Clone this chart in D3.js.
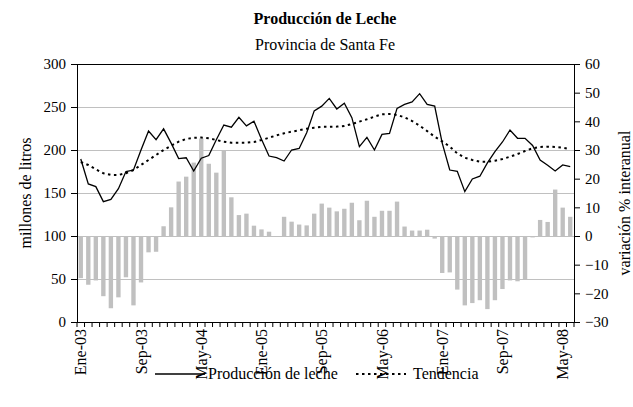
<!DOCTYPE html>
<html><head><meta charset="utf-8">
<script src="https://cdn.jsdelivr.net/npm/d3@7"></script>
<style>
body{margin:0;background:#fff;}
svg{display:block;font-family:"Liberation Serif","Times New Roman",serif;}
</style></head>
<body>
<svg id="chart" width="633" height="407"></svg>
<script>
const monthNames = ["Ene","Feb","Mar","Abr","May","Jun","Jul","Ago","Sep","Oct","Nov","Dic"];
const years = ["03","04","05","06","07","08"];
const nMonths = 66; // Ene-03 .. Jun-08
const categories = [];
for (let k = 0; k < nMonths; k++) categories.push(monthNames[k % 12] + "-" + years[Math.floor(k / 12)]);

const tickLabels = ["Ene-03","Sep-03","May-04","Ene-05","Sep-05","May-06","Ene-07","Sep-07","May-08"];
const leftTicks = [0,50,100,150,200,250,300];
const rightTicks = [-30,-20,-10,0,10,20,30,40,50,60];

// Producción de leche (millones de litros)
const produccion = [189.5,160.5,157.4,140,142.6,155,175,176.7,200,222,212,224.6,
  208,190,191,175.6,190.5,193.5,212,229,226.5,238,228,233.5,
  212.5,193,191,187.2,200,201.8,220,245.5,251,260,247.7,254.3,
  237.6,204,214.7,200,218.2,219.4,248.4,253,256,265.5,253,251,
  208,176.7,175.2,151.6,166.3,169.5,185,198,209.3,223.3,213.6,213.6,
  205.3,188.4,182.3,175.6,182.6,180.6];

// Tendencia (millones de litros)
const tendencia = [186,182.6,177.5,173,171,171,173,176.7,182.6,188.4,194.2,200,
  205,209.7,212.8,214.3,214.5,213.6,211.6,209.7,208.5,208.5,208.5,209.3,
  211.6,214.3,217,219.4,221.3,222.9,224.8,226,227,227,227.2,228,
  230.2,233,235.7,238.8,241.5,241.9,240.7,238,233.7,228.3,222,215.5,
  210,204,196,191,188.4,186.4,186.4,187.6,189.5,192.2,195.3,198.8,
  202,203.5,203.9,203.5,202.7,200.8];

// Variación % interanual
const variacion = [-14.7,-17,-15.5,-21,-25.2,-21.4,-14.4,-24.2,-16.2,-5.7,-5.5,3.4,
  10,19,20.7,25.6,34,25.2,22.1,30,13.5,7.3,7.8,3.6,
  2.3,1.5,0,6.7,5,4,3.7,7.8,11.3,9.9,8.6,9.5,
  11.6,5.5,12.3,6.7,8.8,8.8,12,3.3,1.9,1.9,2.2,-0.9,
  -12.9,-12.7,-18.7,-24.2,-23.4,-22.4,-25.5,-22.4,-18.5,-15.5,-15.8,-15,
  -0.5,5.6,4.9,16.2,9.9,6.7];

const svg = d3.select("#chart");
const L = 77, R = 574, T = 64, B = 322;

const x = d3.scaleBand().domain(categories).range([L, R]).paddingInner(0.42).paddingOuter(0.21);
const xc = d => x(d) + x.bandwidth() / 2;
const step = (R - L) / nMonths;
const yL = d3.scaleLinear().domain([0, 300]).range([B, T]);
const yR = d3.scaleLinear().domain([-30, 60]).range([B, T]);

// gridlines
svg.append("g").selectAll("line").data(leftTicks.filter(v => v > 0 && v < 300)).join("line")
  .attr("x1", L).attr("x2", R).attr("y1", d => yL(d)).attr("y2", d => yL(d))
  .attr("stroke", "#c0c0c0").attr("stroke-width", 1).attr("shape-rendering", "crispEdges");

// bars
svg.append("g").selectAll("rect").data(variacion).join("rect")
  .attr("x", (d, i) => x(categories[i]))
  .attr("width", x.bandwidth())
  .attr("y", d => yR(Math.max(0, d)))
  .attr("height", d => Math.abs(yR(d) - yR(0)))
  .attr("fill", "#c0c0c0");

// trend
svg.append("path").datum(tendencia)
  .attr("d", d3.line().x((d, i) => xc(categories[i])).y(d => yL(d)))
  .attr("fill", "none").attr("stroke", "#000").attr("stroke-width", 2)
  .attr("stroke-dasharray", "2.5,3.5");

// production
svg.append("path").datum(produccion)
  .attr("d", d3.line().x((d, i) => xc(categories[i])).y(d => yL(d)))
  .attr("fill", "none").attr("stroke", "#000").attr("stroke-width", 1.3)
  .attr("stroke-linejoin", "miter");

// axes
const gl = svg.append("g").attr("transform", `translate(${L},0)`)
  .call(d3.axisLeft(yL).tickValues(leftTicks).tickSize(6).tickPadding(5).tickFormat(d3.format("d")));
const gr = svg.append("g").attr("transform", `translate(${R},0)`)
  .call(d3.axisRight(yR).tickValues(rightTicks).tickSize(6).tickPadding(5).tickFormat(d3.format("d")));
[gl, gr].forEach(g => {
  g.select(".domain").attr("stroke", "#000");
  g.selectAll(".tick line").attr("stroke", "#000");
  g.selectAll("text").attr("font-family", "Liberation Serif, serif").attr("font-size", 15).attr("fill", "#000");
});
// top border
svg.append("line").attr("x1", L).attr("x2", R).attr("y1", T + 0.5).attr("y2", T + 0.5)
  .attr("stroke", "#000").attr("stroke-width", 1);

// bottom axis with boundary ticks
const gx = svg.append("g");
gx.append("line").attr("x1", L).attr("x2", R).attr("y1", B + 0.5).attr("y2", B + 0.5).attr("stroke", "#000");
gx.selectAll("line.tk").data(d3.range(nMonths + 1)).join("line").attr("class", "tk")
  .attr("x1", k => L + k * step).attr("x2", k => L + k * step)
  .attr("y1", B).attr("y2", B + 5).attr("stroke", "#000").attr("stroke-width", 1);
gx.selectAll("text").data(tickLabels).join("text")
  .attr("transform", d => `translate(${xc(d)},${B + 7}) rotate(-90)`)
  .attr("text-anchor", "end").attr("dy", "0.35em")
  .attr("font-size", 16).text(d => d);

// titles
svg.append("text").attr("x", 325).attr("y", 24).attr("text-anchor", "middle")
  .attr("font-weight", "bold").attr("font-size", 16).text("Producción de Leche");
svg.append("text").attr("x", 325).attr("y", 50).attr("text-anchor", "middle")
  .attr("font-size", 16).text("Provincia de Santa Fe");
svg.append("text").attr("transform", "translate(25,193) rotate(-90)").attr("text-anchor", "middle")
  .attr("dy", "0.35em").attr("font-size", 16).text("millones de litros");
svg.append("text").attr("transform", "translate(624,203) rotate(-90)").attr("text-anchor", "middle")
  .attr("dy", "0.35em").attr("font-size", 16).text("variación % interanual");

// legend
const lg = svg.append("g");
lg.append("line").attr("x1", 155).attr("x2", 205).attr("y1", 374).attr("y2", 374)
  .attr("stroke", "#000").attr("stroke-width", 1.3);
lg.append("text").attr("x", 208).attr("y", 379).attr("font-size", 16).text("Producción de leche");
lg.append("line").attr("x1", 356).attr("x2", 406).attr("y1", 374).attr("y2", 374)
  .attr("stroke", "#000").attr("stroke-width", 2).attr("stroke-dasharray", "2.5,3.5");
lg.append("text").attr("x", 413).attr("y", 379).attr("font-size", 16).text("Tendencia");
</script>
</body></html>
